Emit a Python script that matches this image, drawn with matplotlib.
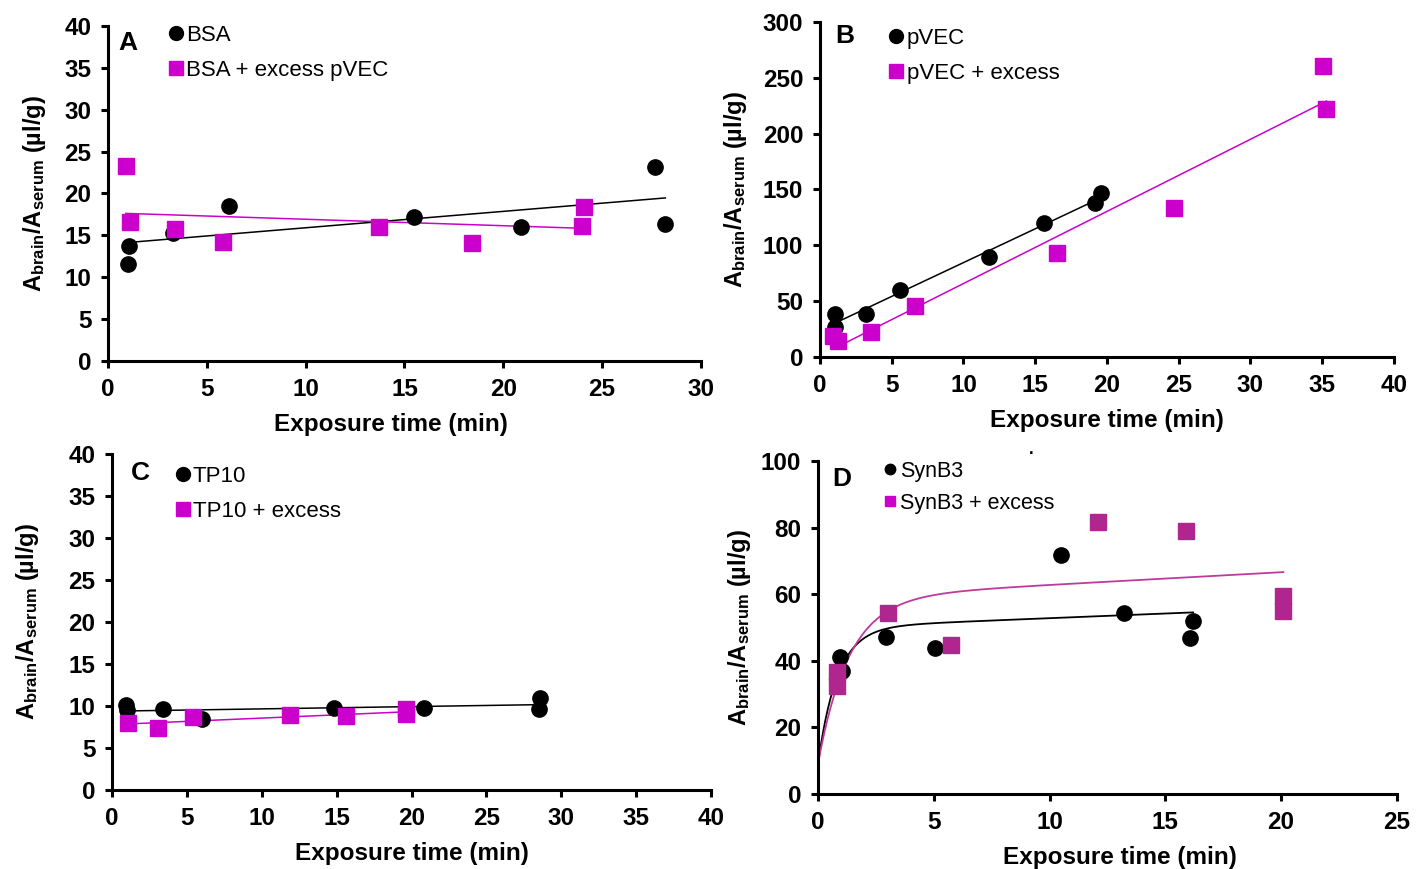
import numpy as np
import matplotlib
matplotlib.use('Agg')
import matplotlib.pyplot as plt
from matplotlib.lines import Line2D

plt.rcParams['font.family'] = ['Liberation Sans', 'DejaVu Sans']
plt.rcParams['mathtext.fontset'] = 'custom'
plt.rcParams['mathtext.rm'] = 'Liberation Sans'
plt.rcParams['mathtext.bf'] = 'Liberation Sans:bold'
plt.rcParams['mathtext.it'] = 'Liberation Sans:italic'

MAG = '#CC00CC'
MAG_D = '#B0268E'
MAG_D_LINE = '#C03A9C'

# Panel A - BSA
a_t = [1.0, 1.05, 3.3, 6.1, 15.5, 20.9, 27.7, 28.2]
a_y = [11.6, 13.7, 15.3, 18.5, 17.2, 16.0, 23.2, 16.4]
a_ex_t = [0.9, 1.1, 3.4, 5.8, 13.7, 18.4, 24.1, 24.0]
a_ex_y = [23.3, 16.6, 15.8, 14.2, 16.0, 14.1, 18.4, 16.1]

# Panel B - pVEC
b_t = [1.05, 1.05, 3.2, 5.6, 11.8, 15.6, 19.2, 19.6]
b_y = [38.5, 27.0, 38.5, 60.0, 89.5, 120.0, 138.0, 147.0]
b_ex_t = [0.9, 1.25, 3.55, 6.6, 16.5, 24.7, 35.05, 35.3]
b_ex_y = [19.0, 14.0, 22.0, 45.7, 93.0, 133.0, 260.6, 222.0]

# Panel C - TP10
c_t = [0.93, 1.0, 3.4, 6.0, 14.8, 20.8, 28.6, 28.5]
c_y = [10.1, 9.5, 9.6, 8.5, 9.8, 9.8, 11.0, 9.6]
c_ex_t = [1.07, 3.1, 5.4, 11.9, 15.6, 19.6, 19.6]
c_ex_y = [8.0, 7.4, 8.7, 8.9, 8.8, 9.0, 9.6]

# Panel D - SynB3
d_t = [0.95, 1.04, 2.94, 5.05, 10.5, 13.2, 16.06, 16.2]
d_y = [41.1, 37.0, 47.1, 43.8, 71.8, 54.4, 46.8, 52.0]
d_ex_t = [0.82, 0.82, 3.02, 5.74, 12.1, 15.9, 20.1, 20.1]
d_ex_y = [36.6, 32.4, 54.4, 44.7, 81.7, 79.0, 59.5, 55.0]
# association + linear fit curves: y0, span, k, slope, t_end
d_fit = [9.0, 41.0, 1.2, 0.28, 16.2]
d_ex_fit = [9.0, 50.0, 0.75, 0.38, 20.1]

fig = plt.figure(figsize=(14.27, 8.69), dpi=100)

ylab = r'$\mathbf{A_{brain}/A_{serum}}$ (µl/g)'


def style_axes(ax, xmax, ymax, xstep, ystep, ypad, xlab_x=0.5):
    ax.set_xlim(0, xmax)
    ax.set_ylim(0, ymax)
    ax.set_xticks(np.arange(0, xmax + 0.01, xstep))
    ax.set_yticks(np.arange(0, ymax + 0.01, ystep))
    for s in ['top', 'right']:
        ax.spines[s].set_visible(False)
    for s in ['left', 'bottom']:
        ax.spines[s].set_linewidth(2.2)
    ax.tick_params(width=2.2, length=5, labelsize=17.5, pad=7)
    for lab in ax.get_xticklabels() + ax.get_yticklabels():
        lab.set_fontweight('bold')
    ax.set_xlabel('Exposure time (min)', fontsize=17.5, fontweight='bold', labelpad=9)
    ax.xaxis.label.set_x(xlab_x)
    ax.set_ylabel(ylab, fontsize=17, fontweight='bold', labelpad=ypad)
    ax.patch.set_visible(False)


def fit_line(ax, t, y, color):
    p = np.polyfit(t, y, 1)
    xs = np.array([min(t), max(t)])
    ax.plot(xs, np.polyval(p, xs), color=color, lw=1.1, zorder=1)


def add_legend(ax, labels, x, y, sq_color=MAG, ms=10, fs=16, spacing=0.62):
    h = [Line2D([], [], ls='none', marker='o', color='black', ms=ms),
         Line2D([], [], ls='none', marker='s', color=sq_color, ms=ms)]
    ax.legend(h, labels, loc='upper left', bbox_to_anchor=(x, y), frameon=False,
              fontsize=fs, handlelength=0.7, handletextpad=0.12, borderpad=0,
              borderaxespad=0, labelspacing=spacing)


# A
axA = fig.add_axes([0.0757, 0.5846, 0.4155, 0.3855])
fit_line(axA, a_t, a_y, 'black')
fit_line(axA, a_ex_t, a_ex_y, MAG)
axA.plot(a_t, a_y, 'o', color='black', ms=11, zorder=3)
axA.plot(a_ex_t, a_ex_y, 's', color=MAG, ms=11, zorder=3)
style_axes(axA, 30, 40, 5, 5, 12, 0.477)
add_legend(axA, ['BSA', 'BSA + excess pVEC'], 0.1007, 1.003)
axA.text(0.034, 0.948, 'A', transform=axA.transAxes, fontsize=19, fontweight='bold',
         ha='center', va='center')

# B
axB = fig.add_axes([0.5746, 0.5892, 0.4022, 0.3855])
fit_line(axB, b_t, b_y, 'black')
fit_line(axB, b_ex_t, b_ex_y, MAG)
axB.plot(b_t, b_y, 'o', color='black', ms=11, zorder=3)
axB.plot(b_ex_t, b_ex_y, 's', color=MAG, ms=11, zorder=3)
style_axes(axB, 40, 300, 5, 50, 10)
add_legend(axB, ['pVEC', 'pVEC + excess'], 0.1197, 0.982)
axB.text(0.044, 0.958, 'B', transform=axB.transAxes, fontsize=19, fontweight='bold',
         ha='center', va='center')

# C
axC = fig.add_axes([0.0785, 0.0909, 0.4198, 0.3867])
fit_line(axC, c_t, c_y, 'black')
fit_line(axC, c_ex_t, c_ex_y, MAG)
axC.plot(c_t, c_y, 'o', color='black', ms=11, zorder=3)
axC.plot(c_ex_t, c_ex_y, 's', color=MAG, ms=11, zorder=3)
style_axes(axC, 40, 40, 5, 5, 20)
add_legend(axC, ['TP10', 'TP10 + excess'], 0.1047, 0.965)
axC.text(0.047, 0.943, 'C', transform=axC.transAxes, fontsize=19, fontweight='bold',
         ha='center', va='center')

# D
axD = fig.add_axes([0.5732, 0.0863, 0.4057, 0.3832])
for prm, col in [(d_fit, 'black'), (d_ex_fit, MAG_D_LINE)]:
    y0, span, k, m, tend = prm
    tt = np.linspace(0, tend, 300)
    axD.plot(tt, y0 + span * (1 - np.exp(-k * tt)) + m * tt, color=col, lw=1.3, zorder=1)
axD.plot(d_t, d_y, 'o', color='black', ms=11, zorder=3)
axD.plot(d_ex_t, d_ex_y, 's', color=MAG_D, ms=11, zorder=3)
style_axes(axD, 25, 100, 5, 20, 6, 0.522)
add_legend(axD, ['SynB3', 'SynB3 + excess'], 0.112, 1.000, ms=7.5, fs=15.5, spacing=0.5)
axD.text(0.041, 0.946, 'D', transform=axD.transAxes, fontsize=19, fontweight='bold',
         ha='center', va='center')
fig.text(0.7225, 0.478, '.', fontsize=12, fontweight='bold', ha='center')

fig.savefig('out.png', dpi=100)
